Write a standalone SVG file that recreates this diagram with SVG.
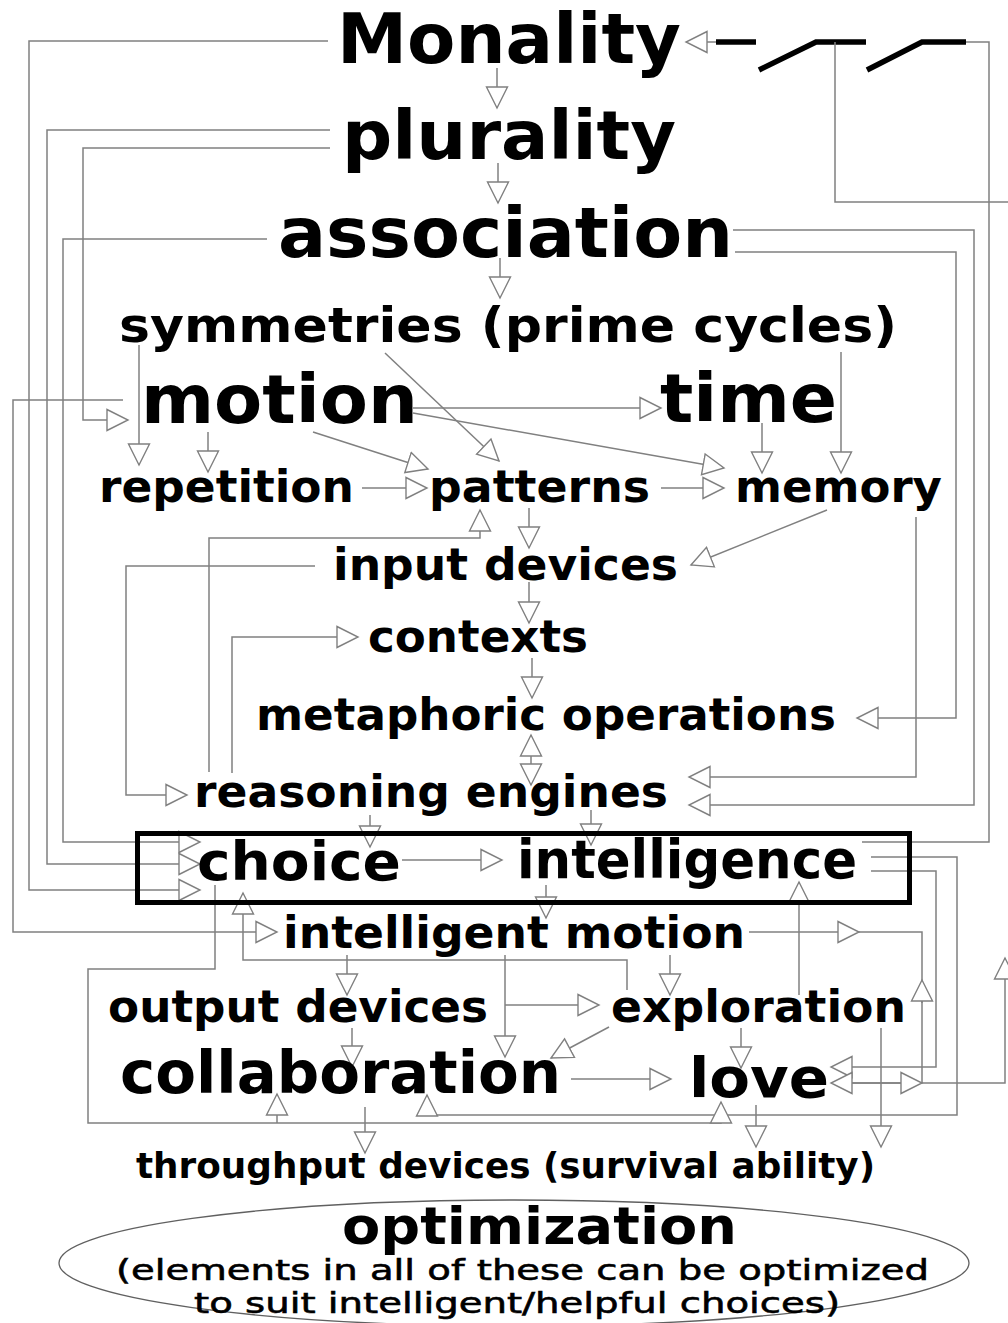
<svg xmlns="http://www.w3.org/2000/svg" width="1008" height="1323" viewBox="0 0 1008 1323">
<defs>
<style>
.t{font-family:"DejaVu Sans","Liberation Sans",sans-serif;font-weight:bold;fill:#000}
.r{font-family:"DejaVu Sans","Liberation Sans",sans-serif;font-weight:normal;fill:#000}
.c{fill:none;stroke:#808080;stroke-width:1.5}
.a{marker-end:url(#ah)}
.k{fill:none;stroke:#000;stroke-width:5.5}
</style>
<marker id="ah" viewBox="0 0 24 24" markerWidth="24" markerHeight="24" refX="22" refY="12" orient="auto" markerUnits="userSpaceOnUse">
<path d="M1,1.5 L22,12 L1,22.5 Z" fill="#fff" stroke="#808080" stroke-width="1.4"/>
</marker>
</defs>
<rect width="1008" height="1323" fill="#fff"/>

<g id="connectors">
<path class="c a" d="M497,68 V108"/>
<path class="c a" d="M498,163 V203"/>
<path class="c a" d="M500,258 V298"/>
<path class="c a" d="M756,42 H686"/>
<path class="k" d="M716,42 H756"/>
<path class="k" d="M759,70 L816,42 H866"/>
<path class="k" d="M867,70 L922,42 H966"/>
<path class="c" d="M966,42 H989 V842 H862"/>
<path class="c" d="M835,42 V202 H1008"/>
<path class="c a" d="M328,41 H29 V890 H200"/>
<path class="c a" d="M330,130 H47 V864 H200"/>
<path class="c a" d="M330,148 H83 V420 H128"/>
<path class="c a" d="M267,239 H63 V842 H200"/>
<path class="c a" d="M123,400 H13 V932 H277"/>
<path class="c a" d="M139,345 V465"/>
<path class="c a" d="M208,432 V472"/>
<path class="c a" d="M313,432 L428,469"/>
<path class="c a" d="M385,353 L499,461"/>
<path class="c a" d="M413,408 H661"/>
<path class="c a" d="M413,413 L724,468"/>
<path class="c a" d="M762,423 V473"/>
<path class="c a" d="M841,352 V473"/>
<path class="c a" d="M362,488 H427"/>
<path class="c a" d="M661,488 H724"/>
<path class="c a" d="M529,508 V548"/>
<path class="c a" d="M827,510 L691,565"/>
<path class="c a" d="M529,582 V623"/>
<path class="c a" d="M532,658 V698"/>
<path class="c a" d="M531,758 V735"/>
<path class="c a" d="M531,758 V785"/>
<path class="c a" d="M315,566 H126 V795 H187"/>
<path class="c a" d="M209,772 V538 H480 V510"/>
<path class="c a" d="M232,773 V637 H358"/>
<path class="c a" d="M916,517 V777 H689"/>
<path class="c a" d="M733,230 H974 V805 H689"/>
<path class="c a" d="M735,252 H956 V718 H857"/>
<path class="c a" d="M370,815 V847"/>
<path class="c a" d="M591,810 V845"/>
<path class="c a" d="M402,860 H502"/>
<path class="c a" d="M546,885 V918"/>
<path class="c a" d="M871,857 H957 V1115 H427 V1095"/>
<path class="c a" d="M871,871 H936 V1067 H831"/>
<path class="c a" d="M215,885 V969 H88 V1123 H721 V1102"/>
<path class="c a" d="M277,1123 V1094"/>
<path class="c a" d="M627,990 V960 H243 V893"/>
<path class="c a" d="M799,995 V882"/>
<path class="c a" d="M749,932 H859"/>
<path class="c" d="M859,932 H922 V1083"/>
<path class="c a" d="M922,1003 V980"/>
<path class="c a" d="M922,1083 H831"/>
<path class="c a" d="M852,1083 H922"/>
<path class="c a" d="M922,1083 H1005 V958"/>
<path class="c a" d="M347,955 V995"/>
<path class="c a" d="M670,955 V995"/>
<path class="c a" d="M505,955 V1057"/>
<path class="c a" d="M505,1005 H599"/>
<path class="c a" d="M352,1028 V1067"/>
<path class="c a" d="M609,1027 L551,1058"/>
<path class="c a" d="M741,1028 V1068"/>
<path class="c a" d="M571,1079 H671"/>
<path class="c a" d="M881,1028 V1147"/>
<path class="c a" d="M756,1105 V1147"/>
<path class="c a" d="M365,1107 V1153"/>
</g>

<g id="box-choice-intelligence">
<rect x="137.5" y="833.5" width="772" height="69" fill="none" stroke="#000" stroke-width="5"/>
</g>

<g id="n-monality"><text class="t" x="337" y="63" font-size="70" textLength="344" lengthAdjust="spacingAndGlyphs">Monality</text></g>
<g id="n-plurality"><text class="t" x="342" y="159" font-size="68" textLength="334" lengthAdjust="spacingAndGlyphs">plurality</text></g>
<g id="n-association"><text class="t" x="278" y="257" font-size="70" textLength="455" lengthAdjust="spacingAndGlyphs">association</text></g>
<g id="n-symmetries"><text class="t" x="119" y="342" font-size="48" textLength="778" lengthAdjust="spacingAndGlyphs">symmetries (prime cycles)</text></g>
<g id="n-motion"><text class="t" x="141" y="423" font-size="67" textLength="277" lengthAdjust="spacingAndGlyphs">motion</text></g>
<g id="n-time"><text class="t" x="660" y="422" font-size="67" textLength="177" lengthAdjust="spacingAndGlyphs">time</text></g>
<g id="n-repetition"><text class="t" x="99" y="502" font-size="45" textLength="255" lengthAdjust="spacingAndGlyphs">repetition</text></g>
<g id="n-patterns"><text class="t" x="429" y="502" font-size="45" textLength="221" lengthAdjust="spacingAndGlyphs">patterns</text></g>
<g id="n-memory"><text class="t" x="735" y="502" font-size="45" textLength="207" lengthAdjust="spacingAndGlyphs">memory</text></g>
<g id="n-input-devices"><text class="t" x="333" y="580" font-size="45" textLength="345" lengthAdjust="spacingAndGlyphs">input devices</text></g>
<g id="n-contexts"><text class="t" x="368" y="652" font-size="45" textLength="220" lengthAdjust="spacingAndGlyphs">contexts</text></g>
<g id="n-metaphoric-operations"><text class="t" x="256" y="730" font-size="45" textLength="580" lengthAdjust="spacingAndGlyphs">metaphoric operations</text></g>
<g id="n-reasoning-engines"><text class="t" x="194" y="807" font-size="45" textLength="474" lengthAdjust="spacingAndGlyphs">reasoning engines</text></g>
<g id="n-choice"><text class="t" x="197" y="880" font-size="53" textLength="204" lengthAdjust="spacingAndGlyphs">choice</text></g>
<g id="n-intelligence"><text class="t" x="517" y="878" font-size="53" textLength="340" lengthAdjust="spacingAndGlyphs">intelligence</text></g>
<g id="n-intelligent-motion"><text class="t" x="283" y="948" font-size="45" textLength="462" lengthAdjust="spacingAndGlyphs">intelligent motion</text></g>
<g id="n-output-devices"><text class="t" x="108" y="1022" font-size="45" textLength="380" lengthAdjust="spacingAndGlyphs">output devices</text></g>
<g id="n-exploration"><text class="t" x="611" y="1022" font-size="45" textLength="295" lengthAdjust="spacingAndGlyphs">exploration</text></g>
<g id="n-collaboration"><text class="t" x="120" y="1093" font-size="58" textLength="441" lengthAdjust="spacingAndGlyphs">collaboration</text></g>
<g id="n-love"><text class="t" x="689" y="1097" font-size="56" textLength="140" lengthAdjust="spacingAndGlyphs">love</text></g>
<g id="n-throughput"><text class="t" x="136" y="1178" font-size="35" textLength="739" lengthAdjust="spacingAndGlyphs">throughput devices (survival ability)</text></g>
<g id="n-optimization">
<ellipse cx="514" cy="1263" rx="455" ry="63" fill="none" stroke="#606060" stroke-width="1.3"/>
<text class="t" x="342" y="1244" font-size="51" textLength="395" lengthAdjust="spacingAndGlyphs">optimization</text>
<text class="r" x="116" y="1280" font-size="29" textLength="813" lengthAdjust="spacingAndGlyphs" stroke="#000" stroke-width="0.6">(elements in all of these can be optimized</text>
<text class="r" x="194" y="1313" font-size="29" textLength="646" lengthAdjust="spacingAndGlyphs" stroke="#000" stroke-width="0.6">to suit intelligent/helpful choices)</text>
</g>
</svg>
